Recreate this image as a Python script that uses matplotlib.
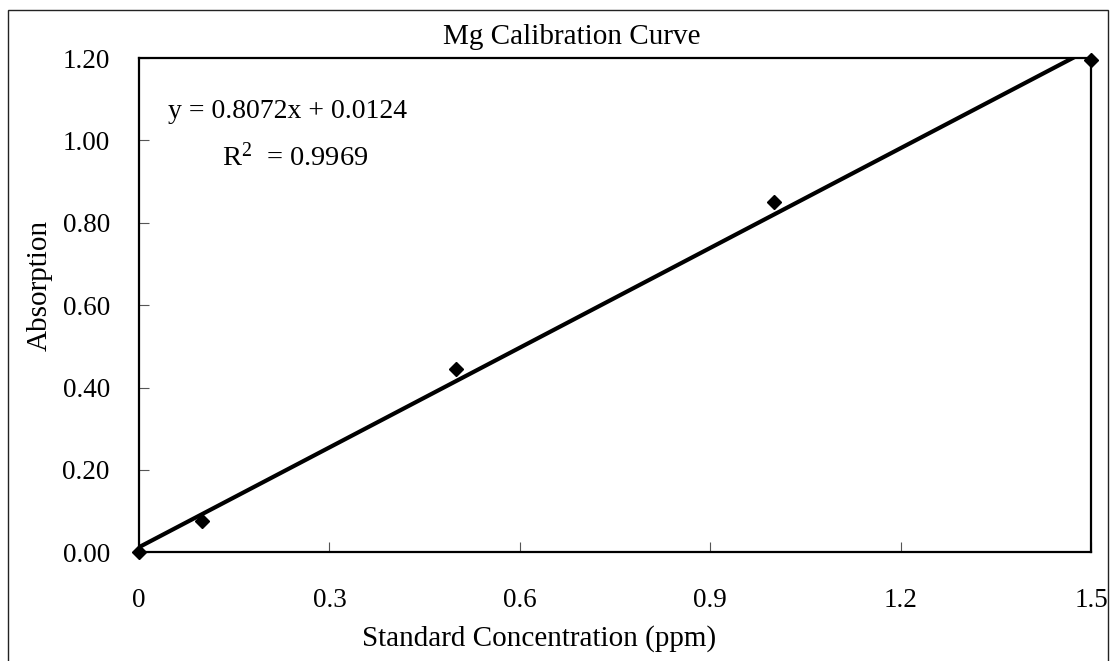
import matplotlib
matplotlib.use("Agg")
import matplotlib.pyplot as plt
import numpy as np
from matplotlib.patches import Rectangle

plt.rcParams['font.family'] = ['Liberation Serif', 'DejaVu Serif']
plt.rcParams['mathtext.fontset'] = 'custom'
plt.rcParams['mathtext.rm'] = 'Liberation Serif'
plt.rcParams['mathtext.it'] = 'Liberation Serif'
plt.rcParams['mathtext.default'] = 'regular'

# Data
concentration = [0.0, 0.1, 0.5, 1.0, 1.5]
absorption = [0.0, 0.075, 0.445, 0.85, 1.194]
slope = 0.8072
intercept = 0.0124
r_squared = 0.9969
x_ticks = [0, 0.3, 0.6, 0.9, 1.2, 1.5]
x_tick_labels = ['0', '0.3', '0.6', '0.9', '1.2', '1.5']
y_ticks = [0.0, 0.2, 0.4, 0.6, 0.8, 1.0, 1.2]
y_tick_labels = ['0.00', '0.20', '0.40', '0.60', '0.80', '1.00', '1.20']

W, H = 1116, 661
fig = plt.figure(figsize=(W / 100, H / 100), dpi=100)
ax = fig.add_axes([139 / W, 1 - 552.3 / H, (1091 - 139) / W, (552.3 - 58) / H])

# Trendline
xl = np.array([0.0, 1.5])
ax.plot(xl, slope * xl + intercept, color='black', lw=3.0, zorder=2)
# Data points
ax.plot(concentration, absorption, linestyle='none', marker='D', markersize=7.5,
        color='black', clip_on=False, zorder=3)

ax.set_xlim(0, 1.5)
ax.set_ylim(0, 1.2)
ax.set_xticks(x_ticks)
ax.set_xticklabels(x_tick_labels)
ax.set_yticks(y_ticks)
ax.set_yticklabels(y_tick_labels)
ax.tick_params(axis='both', direction='in', length=7, width=0.8, color='#555555',
               labelsize=19.5)
ax.tick_params(axis='x', pad=26)
ax.tick_params(axis='y', pad=21)
for s in ax.spines.values():
    s.set_linewidth(1.6)
    s.set_color('black')

fs = 21
fig.text(572 / W, 1 - 37 / H, 'Mg Calibration Curve', ha='center', va='center', fontsize=fs)
fig.text(539 / W, 1 - 639 / H, 'Standard Concentration (ppm)', ha='center', va='center', fontsize=fs)
fig.text(40 / W, 1 - 285.5 / H, 'Absorption', ha='center', va='center', rotation=90, fontsize=fs)

fig.text(168 / W, 1 - 118 / H, f'y = {slope:.4f}x + {intercept:.4f}', ha='left',
         va='baseline', fontsize=20)
fig.text(222 / W, 1 - 166 / H, f'R$^{{2}}$  = {r_squared:.4f}', ha='left', va='baseline',
         fontsize=20.5)

# Outer chart frame
fig.patches.append(Rectangle((8 / W, -0.05), (1108 - 8) / W, 1.05 - 10 / H,
                             transform=fig.transFigure, fill=False, lw=1.0,
                             edgecolor='#222222'))

fig.savefig('out.png', dpi=100)
